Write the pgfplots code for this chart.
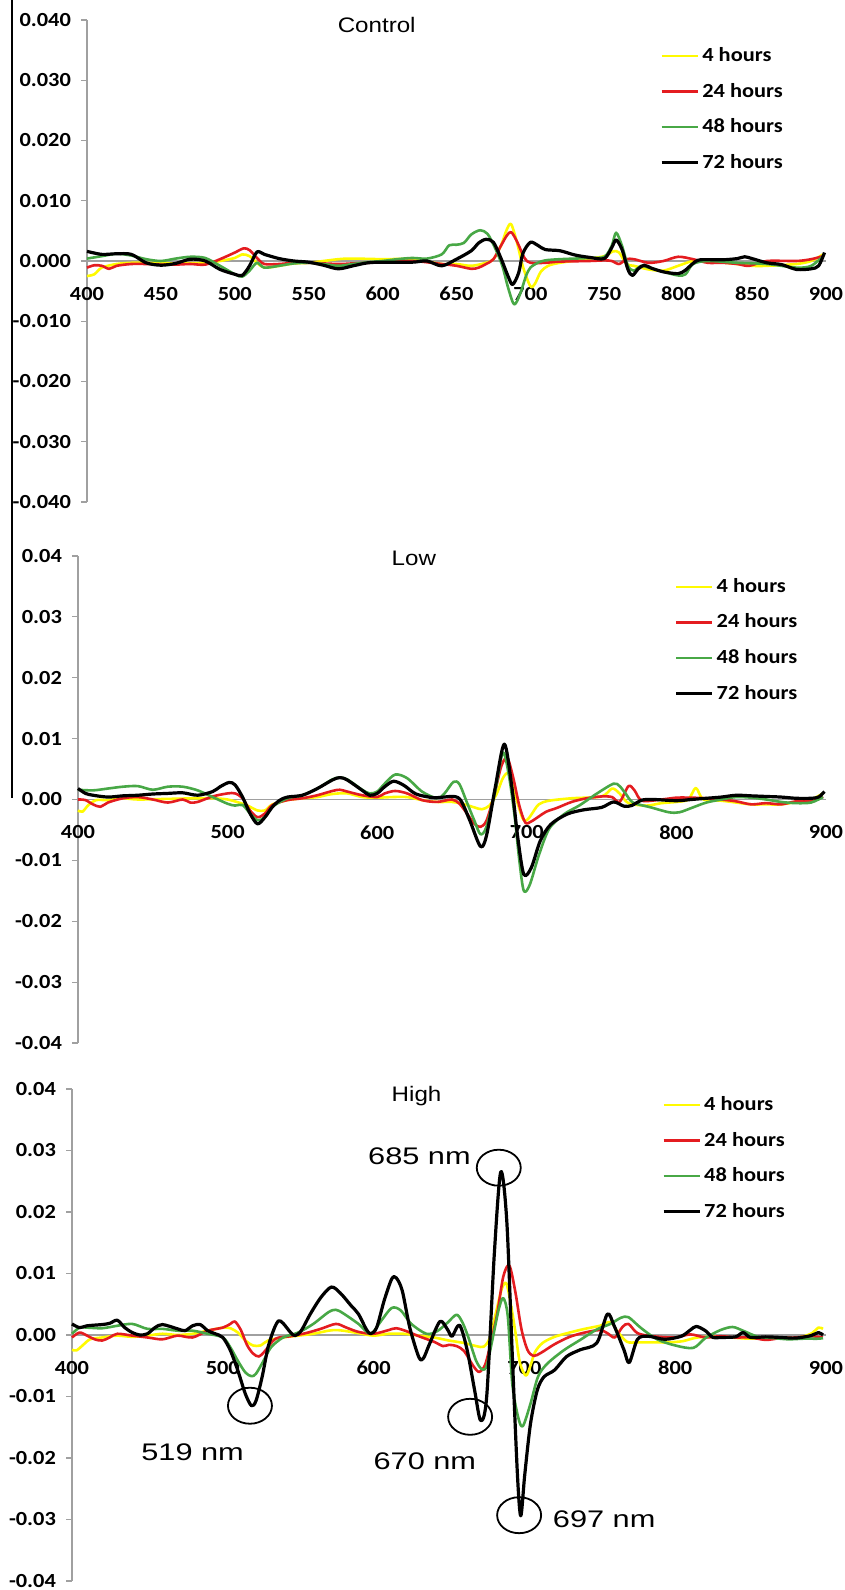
\documentclass[border=0pt]{standalone}
\usepackage{fontspec}
\setmainfont{Carlito}
\newfontfamily\arial{Liberation Sans}
\usepackage{graphicx}
\usepackage{pgfplots}
\pgfplotsset{compat=1.18}

\definecolor{cy}{RGB}{255,250,0}
\definecolor{cr}{RGB}{228,28,32}
\definecolor{cg}{RGB}{72,168,70}
\definecolor{axgray}{RGB}{160,160,160}

\newcommand{\tl}[1]{\scalebox{1.12}[1]{#1}}

\pgfplotsset{
  panel/.style={
    scale only axis,
    anchor=south west,
    xmin=400, xmax=900, ymin=-0.04, ymax=0.04,
    axis x line=middle, axis y line=left,
    axis line style={axgray, line width=0.6pt, -},
    hide obscured x ticks=false, hide obscured y ticks=false,
    scaled y ticks=false, scaled x ticks=false,
    ytick={-0.04,-0.03,-0.02,-0.01,0,0.01,0.02,0.03,0.04},
    tick align=outside,
    major tick length=3pt,
    ytick style={axgray, line width=0.6pt},
    xtick style={draw=none},
    tick label style={font=\fontsize{10}{12}\selectfont\bfseries, text=black},
    yticklabel style={anchor=east, xshift=-1.5pt},
    xticklabel style={anchor=center, yshift=-13.5pt},
    clip=false,
    no markers,
    legend style={draw=none, fill=none, anchor=north west,
      font=\fontsize{10}{12}\selectfont\bfseries,
      inner sep=0pt, nodes={inner sep=0pt}, cells={anchor=west},
      /tikz/row sep=9.3pt,
      /tikz/every odd column/.append style={column sep=1.5pt}},
    legend image code/.code={\draw[##1] (0pt,0pt) -- (18pt,0pt);},
  },
  s4/.style={color=cy, line width=1.3pt, smooth, line join=round},
  s24/.style={color=cr, line width=1.3pt, smooth, line join=round},
  s48/.style={color=cg, line width=1.3pt, smooth, line join=round},
  s72/.style={color=black, line width=1.6pt, smooth, line join=round},
}

\begin{document}
\begin{tikzpicture}
\path[use as bounding box] (0,0) rectangle (422.5pt,795pt);
\draw[line width=0.6pt] (6pt,795pt) -- (6pt,396pt);

% ---------------- Control ----------------
\begin{axis}[panel,
  at={(43.5pt,544pt)}, width=369.5pt, height=241pt,
  xtick={400,450,...,900},
  xticklabels={\tl{400},\tl{450},\tl{500},\tl{550},\tl{600},\tl{650},\tl{700},\tl{750},\tl{800},\tl{850},\tl{900}},
  yticklabels={\tl{-0.040},\tl{-0.030},\tl{-0.020},\tl{-0.010},\tl{0.000},\tl{0.010},\tl{0.020},\tl{0.030},\tl{0.040}},
  legend style={at={(0.775,0.944)}},
]
\addplot[s4] coordinates {(400,-0.0025)(405,-0.0022)(410,-0.0011)(420,-0.0005)(430,-0.0003)(440,-0.0003)(460,-0.0004)(480,-0.0003)(490,0.0000)(500,0.0005)(505,0.0011)(510,0.0008)(515,-0.0003)(520,-0.0011)(530,-0.0008)(540,-0.0004)(550,-0.0003)(570,0.0003)(580,0.0004)(600,0.0003)(620,0.0003)(640,-0.0005)(650,-0.0005)(660,-0.0008)(670,-0.0003)(675,0.0003)(680,0.0025)(684,0.0052)(687,0.0061)(691,0.0030)(695,-0.0010)(700,-0.0042)(703,-0.0038)(707,-0.0018)(712,-0.0008)(720,-0.0003)(740,0.0004)(750,0.0008)(756,0.0016)(760,0.0014)(765,-0.0005)(770,-0.0008)(780,-0.0014)(790,-0.0016)(800,-0.0008)(810,0.0000)(820,0.0000)(840,-0.0005)(850,-0.0008)(860,-0.0008)(880,-0.0005)(890,0.0000)(898,0.0011)};
\addplot[s24] coordinates {(400,-0.0011)(405,-0.0007)(410,-0.0008)(415,-0.0013)(420,-0.0008)(430,-0.0005)(440,-0.0005)(450,-0.0006)(460,-0.0006)(470,-0.0005)(480,-0.0006)(490,0.0003)(500,0.0014)(506,0.0021)(510,0.0018)(515,0.0005)(520,-0.0005)(530,-0.0005)(540,-0.0003)(550,-0.0003)(570,-0.0005)(580,-0.0004)(600,-0.0002)(620,0.0000)(640,-0.0005)(650,-0.0008)(660,-0.0013)(665,-0.0011)(670,-0.0005)(675,0.0003)(680,0.0025)(684,0.0042)(687,0.0048)(691,0.0032)(696,0.0005)(700,-0.0003)(710,-0.0003)(720,-0.0001)(740,0.0000)(750,0.0001)(755,0.0000)(760,-0.0005)(765,0.0003)(770,0.0003)(780,-0.0003)(790,0.0000)(800,0.0007)(810,0.0003)(820,-0.0003)(830,-0.0003)(840,-0.0005)(848,-0.0008)(860,0.0000)(880,0.0000)(890,0.0003)(898,0.0008)};
\addplot[s48] coordinates {(400,0.0004)(410,0.0008)(420,0.0012)(430,0.0009)(440,0.0003)(450,0.0000)(460,0.0004)(470,0.0007)(480,0.0005)(490,-0.0008)(500,-0.0022)(505,-0.0026)(510,-0.0016)(515,-0.0003)(520,-0.0011)(530,-0.0008)(540,-0.0004)(550,-0.0003)(560,-0.0005)(570,-0.0008)(580,-0.0005)(590,-0.0002)(600,0.0000)(610,0.0003)(620,0.0005)(630,0.0004)(640,0.0011)(645,0.0026)(650,0.0027)(655,0.0030)(660,0.0044)(666,0.0051)(671,0.0045)(676,0.0022)(681,-0.0008)(685,-0.0045)(689,-0.0072)(693,-0.0055)(697,-0.0025)(700,-0.0011)(705,-0.0003)(710,0.0001)(720,0.0003)(740,0.0005)(750,0.0007)(755,0.0025)(758,0.0047)(762,0.0025)(766,-0.0008)(770,-0.0016)(775,-0.0008)(780,-0.0011)(790,-0.0018)(800,-0.0024)(805,-0.0022)(810,-0.0005)(820,0.0000)(840,-0.0003)(860,-0.0005)(880,-0.0011)(890,-0.0008)(898,0.0008)};
\addplot[s72] coordinates {(400,0.0016)(410,0.0011)(420,0.0012)(430,0.0011)(440,-0.0003)(450,-0.0007)(460,-0.0004)(470,0.0003)(480,0.0000)(490,-0.0014)(500,-0.0022)(505,-0.0024)(510,-0.0008)(515,0.0015)(520,0.0011)(530,0.0004)(540,0.0000)(550,-0.0002)(560,-0.0007)(570,-0.0013)(580,-0.0008)(590,-0.0003)(600,-0.0002)(620,-0.0002)(630,0.0000)(640,-0.0008)(650,0.0003)(660,0.0017)(665,0.0030)(670,0.0036)(675,0.0031)(680,0.0005)(685,-0.0026)(688,-0.0039)(692,-0.0020)(695,0.0013)(700,0.0031)(705,0.0026)(710,0.0019)(720,0.0017)(730,0.0010)(740,0.0006)(750,0.0004)(755,0.0022)(758,0.0035)(762,0.0019)(766,-0.0014)(769,-0.0024)(773,-0.0013)(777,-0.0007)(782,-0.0012)(790,-0.0018)(800,-0.0021)(805,-0.0015)(810,-0.0004)(815,0.0002)(830,0.0002)(840,0.0004)(845,0.0007)(850,0.0004)(860,-0.0003)(870,-0.0006)(880,-0.0014)(890,-0.0013)(895,-0.0008)(899,0.0014)};
\legend{\tl{4 hours},\tl{24 hours},\tl{48 hours},\tl{72 hours}}
\node[inner sep=0pt, font=\arial\fontsize{10.5}{12}\selectfont] at (rel axis cs:0.392,0.99) {\scalebox{1.15}[1]{Control}};
\end{axis}

% ---------------- Low ----------------
\begin{axis}[panel,
  at={(39pt,273.5pt)}, width=374pt, height=243.5pt,
  xtick={400,500,...,900},
  xticklabels={\tl{400},\tl{500},\tl{600},\tl{700},\tl{800},\tl{900}},
  yticklabels={\tl{-0.04},\tl{-0.03},\tl{-0.02},\tl{-0.01},\tl{0.00},\tl{0.01},\tl{0.02},\tl{0.03},\tl{0.04}},
  legend style={at={(0.797,0.955)}},
]
\addplot[s4] coordinates {(400,-0.0018)(403,-0.0020)(407,-0.0009)(412,-0.0001)(420,-0.0001)(430,0.0002)(440,0.0000)(460,0.0001)(480,0.0002)(490,0.0002)(500,0.0000)(510,-0.0007)(515,-0.0012)(520,-0.0018)(525,-0.0018)(530,-0.0008)(540,-0.0001)(550,0.0002)(560,0.0004)(570,0.0009)(580,0.0010)(590,0.0004)(600,0.0003)(610,0.0004)(620,0.0004)(630,-0.0001)(640,-0.0004)(650,-0.0004)(657,-0.0007)(665,-0.0013)(670,-0.0016)(675,-0.0010)(680,0.0010)(684,0.0035)(688,0.0043)(692,0.0010)(697,-0.0030)(700,-0.0034)(703,-0.0025)(708,-0.0008)(715,-0.0002)(730,0.0002)(750,0.0005)(757,0.0018)(762,0.0010)(768,-0.0006)(780,-0.0010)(790,-0.0006)(800,-0.0004)(808,0.0000)(813,0.0019)(818,0.0000)(830,-0.0002)(840,-0.0005)(850,-0.0008)(860,-0.0008)(870,-0.0008)(880,-0.0004)(890,0.0000)(898,0.0010)};
\addplot[s24] coordinates {(400,0.0000)(405,-0.0001)(410,-0.0008)(415,-0.0012)(420,-0.0005)(430,0.0002)(440,0.0004)(450,0.0000)(460,-0.0005)(470,0.0000)(475,-0.0005)(480,-0.0004)(490,0.0005)(500,0.0010)(505,0.0010)(510,0.0002)(515,-0.0018)(520,-0.0029)(525,-0.0023)(530,-0.0009)(540,-0.0001)(550,0.0002)(560,0.0007)(570,0.0014)(575,0.0016)(580,0.0013)(590,0.0007)(600,0.0004)(605,0.0010)(612,0.0014)(620,0.0010)(630,-0.0001)(640,-0.0004)(650,0.0000)(655,-0.0007)(660,-0.0023)(665,-0.0040)(669,-0.0045)(673,-0.0035)(678,0.0005)(683,0.0055)(687,0.0068)(691,0.0035)(695,-0.0010)(699,-0.0038)(703,-0.0036)(708,-0.0028)(713,-0.0020)(720,-0.0014)(730,-0.0004)(740,0.0002)(750,0.0005)(757,0.0004)(762,-0.0004)(768,0.0022)(772,0.0015)(777,-0.0002)(790,0.0000)(800,0.0003)(810,0.0003)(820,0.0002)(830,0.0000)(840,-0.0003)(850,-0.0008)(860,-0.0006)(870,-0.0008)(880,-0.0003)(890,-0.0003)(898,0.0005)};
\addplot[s48] coordinates {(400,0.0016)(410,0.0015)(420,0.0018)(430,0.0021)(440,0.0022)(450,0.0016)(460,0.0021)(470,0.0021)(480,0.0015)(490,0.0004)(500,-0.0007)(505,-0.0010)(510,-0.0009)(515,-0.0023)(520,-0.0034)(525,-0.0029)(530,-0.0012)(540,0.0002)(550,0.0007)(560,0.0018)(570,0.0033)(575,0.0036)(580,0.0033)(590,0.0016)(595,0.0010)(600,0.0013)(605,0.0026)(612,0.0041)(620,0.0035)(630,0.0013)(640,0.0002)(645,0.0010)(651,0.0029)(655,0.0025)(660,-0.0005)(665,-0.0035)(669,-0.0057)(673,-0.0045)(679,0.0015)(684,0.0077)(688,0.0040)(692,-0.0030)(695,-0.0100)(698,-0.0150)(702,-0.0140)(708,-0.0092)(715,-0.0048)(725,-0.0024)(735,-0.0010)(747,0.0010)(758,0.0026)(762,0.0022)(766,0.0010)(771,-0.0005)(783,-0.0013)(795,-0.0021)(802,-0.0021)(810,-0.0014)(820,-0.0005)(830,0.0000)(840,0.0004)(850,0.0003)(860,0.0000)(870,-0.0004)(880,-0.0006)(890,-0.0005)(898,0.0004)};
\addplot[s72] coordinates {(400,0.0018)(405,0.0010)(410,0.0007)(420,0.0004)(430,0.0006)(440,0.0007)(450,0.0009)(460,0.0010)(470,0.0011)(480,0.0007)(490,0.0013)(495,0.0021)(501,0.0028)(505,0.0024)(510,0.0004)(515,-0.0023)(520,-0.0040)(525,-0.0029)(530,-0.0012)(535,-0.0001)(540,0.0004)(550,0.0007)(560,0.0018)(570,0.0032)(575,0.0036)(580,0.0032)(590,0.0015)(595,0.0007)(600,0.0010)(605,0.0021)(611,0.0030)(618,0.0023)(626,0.0009)(638,0.0003)(651,0.0005)(656,-0.0002)(662,-0.0035)(669,-0.0077)(673,-0.0060)(679,0.0021)(685,0.0091)(690,0.0021)(694,-0.0063)(698,-0.0123)(703,-0.0112)(709,-0.0068)(716,-0.0041)(727,-0.0024)(738,-0.0017)(750,-0.0013)(758,-0.0004)(765,-0.0011)(770,-0.0010)(777,-0.0001)(785,0.0000)(800,-0.0002)(810,0.0000)(820,0.0002)(830,0.0004)(840,0.0007)(850,0.0006)(860,0.0005)(870,0.0004)(880,0.0002)(890,0.0002)(895,0.0004)(899,0.0013)};
\legend{\tl{4 hours},\tl{24 hours},\tl{48 hours},\tl{72 hours}}
\node[inner sep=0pt, font=\arial\fontsize{10.5}{12}\selectfont] at (rel axis cs:0.449,0.995) {\scalebox{1.15}[1]{Low}};
\end{axis}

% ---------------- High ----------------
\begin{axis}[panel,
  at={(36pt,4.5pt)}, width=377pt, height=246pt,
  xtick={400,500,...,900},
  xticklabels={\tl{400},\tl{500},\tl{600},\tl{700},\tl{800},\tl{900}},
  yticklabels={\tl{-0.04},\tl{-0.03},\tl{-0.02},\tl{-0.01},\tl{0.00},\tl{0.01},\tl{0.02},\tl{0.03},\tl{0.04}},
  legend style={at={(0.782,0.9858)}},
]
\addplot[s4] coordinates {(400,-0.0024)(403,-0.0025)(407,-0.0017)(412,-0.0007)(420,-0.0004)(430,-0.0001)(440,-0.0003)(450,-0.0001)(460,0.0002)(470,0.0000)(480,0.0002)(490,0.0007)(500,0.0012)(505,0.0011)(510,0.0004)(515,-0.0009)(520,-0.0017)(525,-0.0017)(530,-0.0009)(540,-0.0004)(550,-0.0001)(560,0.0002)(570,0.0007)(575,0.0008)(580,0.0007)(590,0.0003)(600,-0.0001)(610,0.0002)(620,0.0002)(630,-0.0001)(640,-0.0004)(650,-0.0009)(660,-0.0013)(668,-0.0018)(673,-0.0019)(677,-0.0005)(681,0.0035)(685,0.0075)(688,0.0084)(691,0.0050)(694,0.0005)(697,-0.0045)(701,-0.0066)(704,-0.0050)(707,-0.0028)(712,-0.0013)(720,-0.0003)(730,0.0004)(740,0.0010)(750,0.0015)(757,0.0021)(762,0.0005)(768,-0.0011)(775,-0.0012)(785,-0.0012)(795,-0.0012)(805,-0.0010)(815,-0.0004)(830,-0.0003)(850,-0.0006)(870,-0.0004)(880,-0.0005)(890,0.0002)(895,0.0012)(898,0.0010)};
\addplot[s24] coordinates {(400,-0.0004)(405,0.0004)(410,-0.0001)(415,-0.0007)(420,-0.0009)(425,-0.0004)(430,0.0002)(440,-0.0001)(450,-0.0004)(460,-0.0007)(470,-0.0001)(480,-0.0004)(490,0.0007)(500,0.0012)(505,0.0018)(508,0.0022)(512,0.0008)(516,-0.0016)(520,-0.0030)(524,-0.0035)(528,-0.0026)(535,-0.0006)(545,-0.0002)(555,0.0003)(565,0.0010)(575,0.0018)(582,0.0012)(590,0.0005)(600,0.0002)(610,0.0008)(615,0.0011)(622,0.0006)(630,-0.0002)(640,-0.0011)(646,-0.0018)(650,-0.0016)(655,-0.0018)(660,-0.0026)(666,-0.0050)(670,-0.0060)(674,-0.0048)(678,-0.0010)(682,0.0035)(686,0.0095)(690,0.0113)(694,0.0070)(698,0.0010)(702,-0.0024)(706,-0.0034)(711,-0.0029)(720,-0.0015)(730,-0.0003)(740,0.0004)(750,0.0008)(755,0.0003)(760,-0.0004)(765,0.0013)(769,0.0018)(775,0.0003)(785,-0.0002)(800,-0.0004)(810,0.0001)(820,-0.0004)(830,-0.0002)(840,-0.0004)(850,-0.0004)(860,-0.0008)(870,-0.0005)(880,-0.0004)(890,-0.0002)(898,-0.0004)};
\addplot[s48] coordinates {(400,0.0002)(405,0.0012)(410,0.0012)(420,0.0011)(430,0.0015)(440,0.0018)(450,0.0010)(460,0.0010)(470,0.0007)(480,0.0007)(490,0.0002)(500,-0.0004)(505,-0.0020)(510,-0.0042)(515,-0.0061)(519,-0.0067)(522,-0.0063)(527,-0.0042)(532,-0.0020)(540,-0.0004)(550,0.0004)(560,0.0018)(570,0.0037)(575,0.0041)(580,0.0035)(590,0.0018)(598,0.0002)(605,0.0023)(612,0.0044)(618,0.0040)(625,0.0018)(635,0.0002)(642,0.0006)(649,0.0020)(655,0.0033)(659,0.0020)(663,-0.0005)(668,-0.0042)(672,-0.0056)(675,-0.0050)(679,-0.0005)(683,0.0042)(686,0.0060)(689,0.0030)(692,-0.0080)(696,-0.0135)(699,-0.0148)(704,-0.0112)(709,-0.0068)(715,-0.0047)(726,-0.0025)(737,-0.0008)(748,0.0009)(757,0.0018)(764,0.0028)(769,0.0029)(777,0.0012)(788,-0.0007)(800,-0.0017)(812,-0.0021)(820,-0.0005)(830,0.0008)(838,0.0013)(845,0.0007)(855,-0.0003)(865,-0.0005)(875,-0.0007)(885,-0.0006)(895,-0.0006)(898,-0.0005)};
\addplot[s72] coordinates {(400,0.0018)(405,0.0012)(410,0.0015)(420,0.0017)(425,0.0019)(430,0.0024)(435,0.0012)(440,0.0004)(445,0.0000)(450,0.0002)(455,0.0012)(460,0.0017)(470,0.0010)(475,0.0007)(480,0.0015)(485,0.0017)(490,0.0007)(495,0.0002)(500,-0.0004)(505,-0.0025)(510,-0.0058)(515,-0.0096)(519,-0.0115)(522,-0.0107)(526,-0.0069)(530,-0.0020)(534,0.0010)(537,0.0023)(540,0.0019)(545,0.0004)(548,-0.0001)(552,0.0007)(558,0.0034)(565,0.0061)(572,0.0078)(578,0.0068)(585,0.0048)(590,0.0034)(595,0.0010)(598,0.0002)(602,0.0012)(607,0.0056)(612,0.0091)(615,0.0093)(619,0.0072)(624,0.0012)(630,-0.0036)(633,-0.0038)(637,-0.0015)(644,0.0022)(649,0.0009)(652,-0.0002)(657,0.0016)(662,-0.0024)(667,-0.0090)(671,-0.0139)(675,-0.0100)(680,0.0130)(684.3,0.0265)(688.3,0.0186)(692,-0.0035)(695.4,-0.0228)(697.6,-0.0294)(700.2,-0.0228)(704,-0.0145)(708.5,-0.0090)(713,-0.0068)(720,-0.0057)(728,-0.0035)(737,-0.0024)(748,-0.0013)(755,0.0034)(759.5,0.0015)(766,-0.0024)(769.5,-0.0045)(775,-0.0007)(782,-0.0002)(793,-0.0007)(804,-0.0002)(810,0.0008)(814,0.0014)(820,0.0007)(825,-0.0004)(830,-0.0004)(840,-0.0003)(845,0.0004)(850,-0.0004)(860,-0.0003)(870,-0.0004)(880,-0.0005)(890,-0.0001)(895,0.0004)(898,0.0000)};
\legend{\tl{4 hours},\tl{24 hours},\tl{48 hours},\tl{72 hours}}
\node[inner sep=0pt, font=\arial\fontsize{10.5}{12}\selectfont] at (rel axis cs:0.457,0.986) {\scalebox{1.15}[1]{High}};
\draw[line width=0.9pt] (axis cs:518,-0.0115) ellipse [x radius=11pt, y radius=9pt];
\draw[line width=0.9pt] (axis cs:664,-0.0133) ellipse [x radius=11pt, y radius=9pt];
\draw[line width=0.9pt] (axis cs:683,0.0272) ellipse [x radius=11pt, y radius=9pt];
\draw[line width=0.9pt] (axis cs:696.5,-0.0293) ellipse [x radius=11pt, y radius=9pt];
\node[inner sep=0pt, font=\arial\fontsize{12}{14}\selectfont] at (axis cs:480,-0.0190) {\scalebox{1.28}[1]{519 nm}};
\node[inner sep=0pt, font=\arial\fontsize{12}{14}\selectfont] at (axis cs:634,-0.0205) {\scalebox{1.28}[1]{670 nm}};
\node[inner sep=0pt, font=\arial\fontsize{12}{14}\selectfont] at (axis cs:630.4,0.0290) {\scalebox{1.28}[1]{685 nm}};
\node[inner sep=0pt, font=\arial\fontsize{12}{14}\selectfont] at (axis cs:752.9,-0.0300) {\scalebox{1.28}[1]{697 nm}};
\end{axis}
\end{tikzpicture}
\end{document}
